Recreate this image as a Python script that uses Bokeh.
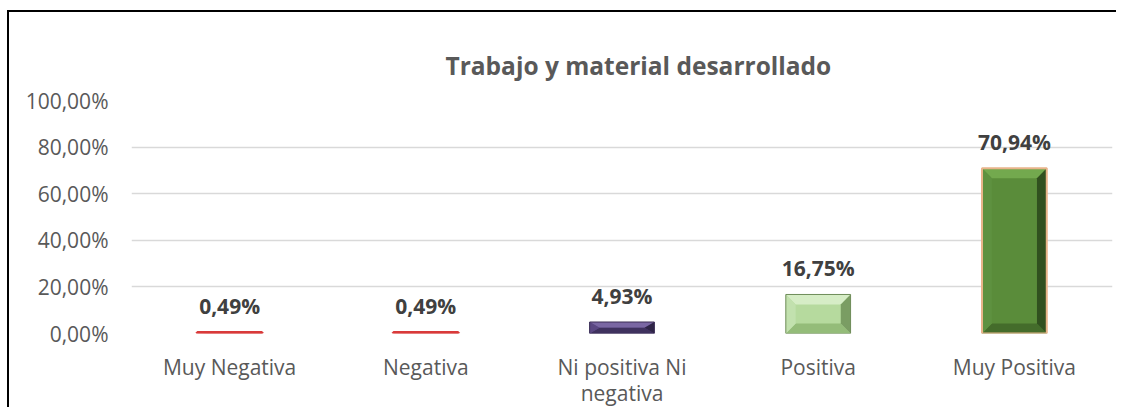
from bokeh.plotting import figure
from bokeh.models import (ColumnDataSource, Range1d, FactorRange, FixedTicker, LabelSet,
                          CategoricalAxis)
from bokeh.embed import file_html
from bokeh.resources import INLINE
from bokeh.core.properties import value

# ---- data ----
categories = ["Muy Negativa", "Negativa", "Ni positiva Ni negativa", "Positiva", "Muy Positiva"]
label_line1 = ["Muy Negativa", "Negativa", "Ni positiva Ni", "Positiva", "Muy Positiva"]
label_line2 = ["", "", "negativa", "", ""]
percentages = [0.49, 0.49, 4.93, 16.75, 70.94]
y_ticks = [0, 20, 40, 60, 80, 100]
title_text = "Trabajo y material desarrollado"

# ---- styles ----
base_colors = ["#f4b8b8", "#f4b8b8", "#5d4a86", "#b6da9e", "#5a8c3a"]
top_colors = ["#f8d0d0", "#f8d0d0", "#7a67a3", "#d6edc6", "#73a94e"]
left_colors = ["#f0a0a0", "#f0a0a0", "#5a4782", "#c2e1ae", "#5e9140"]
bottom_colors = ["#d84040", "#d84040", "#3f315e", "#94bc79", "#446c2b"]
right_colors = ["#b02a2a", "#b02a2a", "#2e2446", "#7a9d63", "#31501f"]
outline_colors = ["#d93a3a", "#d93a3a", "#3a2d55", "#6f8c5a", "#e8b48a"]
outline_widths = [2.5, 2.5, 1, 1, 2]

labels = [f"{v:.2f}%".replace(".", ",") for v in percentages]
src = ColumnDataSource(dict(cat=categories, val=percentages, lab=labels,
                            base=base_colors, outc=outline_colors, outw=outline_widths))

p = figure(x_range=FactorRange(*categories), y_range=Range1d(0, 100),
           width=1109, height=397, output_backend="svg", toolbar_location=None,
           min_border_left=122, min_border_right=6, min_border_top=88, min_border_bottom=71)
p.styles = {"border-top": "2px solid black", "border-left": "2px solid black",
            "margin-left": "7px", "margin-top": "10px"}
p.background_fill_color = "white"
p.border_fill_color = "white"
p.outline_line_color = None

p.title.text = title_text
p.title.text_font = "Open Sans"
p.title.text_font_size = "24.5px"
p.title.text_font_style = "bold"
p.title.text_color = "#595959"
p.title.align = "left"
p.title.offset = 314
p.title.standoff = 37

bar_w = 0.33
p.vbar(x="cat", top="val", width=bar_w, bottom=0, source=src,
       fill_color="base", line_color=None)

# bevel faces derived from the data
xs, ys, fc = [], [], []
px_per_unit_y = 233.3 / 100
for i, v in enumerate(percentages):
    c = i + 0.5
    x0, x1 = c - bar_w / 2, c + bar_w / 2
    d = min(10 / px_per_unit_y, v / 2)
    ddx = 0.05
    xs += [[x0, x1, x1 - ddx, x0 + ddx], [x0, x1, x1 - ddx, x0 + ddx],
           [x0, x0, x0 + ddx, x0 + ddx], [x1, x1, x1 - ddx, x1 - ddx]]
    ys += [[v, v, v - d, v - d], [0, 0, d, d], [0, v, v - d, d], [0, v, v - d, d]]
    fc += [top_colors[i], bottom_colors[i], left_colors[i], right_colors[i]]
p.patches(xs, ys, fill_color=fc, line_color=None)

p.vbar(x="cat", top="val", width=bar_w, bottom=0, source=src,
       fill_color=None, line_color="outc", line_width="outw")

p.add_layout(LabelSet(x="cat", y="val", text="lab", source=src, y_offset=18,
                      text_align="center", text_baseline="alphabetic",
                      text_font=value("Open Sans"), text_font_size="21px",
                      text_font_style="bold", text_color="#404040"))

# y axis
p.yaxis.ticker = FixedTicker(ticks=y_ticks)
p.yaxis.major_label_overrides = {t: f"{t:.2f}%".replace(".", ",") for t in y_ticks}
p.yaxis.major_label_text_font = "Open Sans"
p.yaxis.major_label_text_font_size = "21px"
p.yaxis.major_label_text_color = "#595959"
p.yaxis.axis_line_color = None
p.yaxis.major_tick_line_color = None
p.yaxis.minor_tick_line_color = None
p.yaxis.major_tick_out = 0
p.yaxis.major_label_standoff = 23

# category axis, written as two rows of labels (wrapped like the reference)
p.xaxis.visible = False
p.extra_x_ranges = {
    "line1": FactorRange(*label_line1),
    # only the middle category wraps, so its second row is centred on the plot
    "line2": FactorRange(*[s for s in label_line2 if s]),
}
for name, standoff in (("line1", 19), ("line2", -5)):
    ax = CategoricalAxis(x_range_name=name)
    ax.major_label_text_font = "Open Sans"
    ax.major_label_text_font_size = "21px"
    ax.major_label_text_color = "#595959"
    ax.axis_line_color = None
    ax.major_tick_line_color = None
    ax.minor_tick_line_color = None
    ax.major_tick_out = 0
    ax.major_tick_in = 0
    ax.major_label_standoff = standoff
    p.add_layout(ax, "below")

p.xgrid.grid_line_color = None
p.ygrid.grid_line_color = "#d9d9d9"
p.ygrid.grid_line_width = 1.3

open("out.html", "w").write(file_html(p, INLINE))
